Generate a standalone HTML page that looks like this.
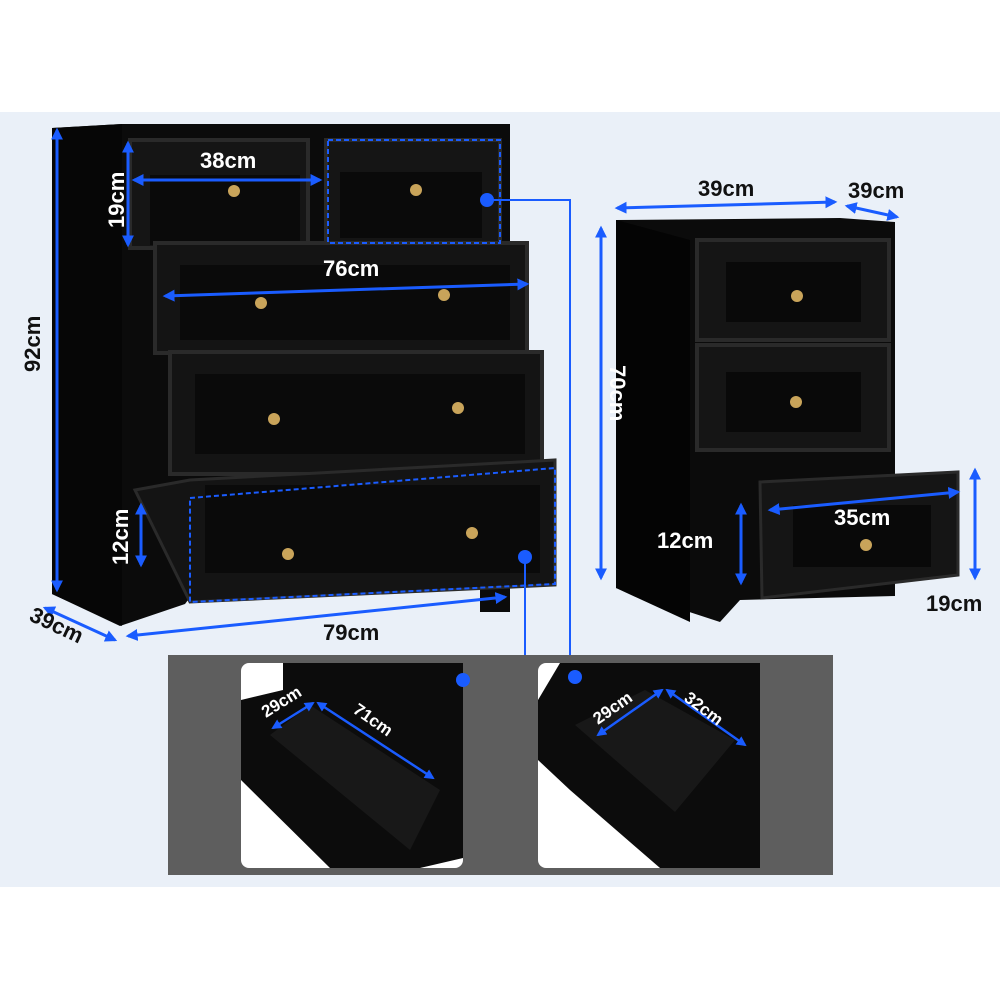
<!DOCTYPE html><html><head><style>body{margin:0;background:#fff}svg{display:block}text{font-family:"Liberation Sans",sans-serif;font-weight:bold;fill:#111}</style></head><body>
<svg width="1000" height="1000" viewBox="0 0 1000 1000">
<defs><marker id="a" viewBox="0 0 10 10" refX="8" refY="5" markerWidth="4" markerHeight="4" orient="auto-start-reverse"><path d="M0,0L10,5L0,10z" fill="#1a5cff"/></marker></defs>
<rect x="0" y="112" width="1000" height="775" fill="#eaf0f8"/>
<!-- main dresser -->
<polygon points="52,128 122,124 510,124 510,612 480,612 480,584 200,584 185,604 120,626 52,594" fill="#0b0b0b"/>
<polygon points="52,128 122,124 122,626 52,594" fill="#060606"/>
<rect x="130" y="140" width="178" height="108" fill="#151515" stroke="#2a2a2a" stroke-width="4"/>
<rect x="150" y="175" width="150" height="70" fill="#0a0a0a"/>
<rect x="326" y="140" width="174" height="104" fill="#151515" stroke="#2a2a2a" stroke-width="4"/>
<rect x="340" y="172" width="142" height="66" fill="#0a0a0a"/>
<rect x="155" y="243" width="372" height="110" fill="#141414" stroke="#2a2a2a" stroke-width="4"/>
<rect x="180" y="265" width="330" height="75" fill="#0a0a0a"/>
<rect x="170" y="352" width="372" height="122" fill="#141414" stroke="#2a2a2a" stroke-width="4"/>
<rect x="195" y="374" width="330" height="80" fill="#0a0a0a"/>
<polygon points="135,490 190,480 555,460 555,585 190,602" fill="#141414" stroke="#2a2a2a" stroke-width="3"/>
<rect x="205" y="485" width="335" height="88" fill="#0a0a0a"/>
<rect x="328" y="140" width="172" height="103" fill="none" stroke="#1a5cff" stroke-width="2" stroke-dasharray="5,3"/>
<polygon points="190,498 555,468 555,584 190,602" fill="none" stroke="#1a5cff" stroke-width="2" stroke-dasharray="5,3"/>
<!-- small cabinet -->
<polygon points="616,220 840,218 895,222 895,596 740,600 720,622 616,588" fill="#0b0b0b"/>
<polygon points="616,220 690,240 690,622 616,588" fill="#040404"/>
<rect x="697" y="240" width="192" height="100" fill="#151515" stroke="#2a2a2a" stroke-width="4"/>
<rect x="726" y="262" width="135" height="60" fill="#090909"/>
<rect x="697" y="345" width="192" height="105" fill="#151515" stroke="#2a2a2a" stroke-width="4"/>
<rect x="726" y="372" width="135" height="60" fill="#090909"/>
<polygon points="760,482 958,472 958,575 762,598" fill="#151515" stroke="#2a2a2a" stroke-width="3"/>
<rect x="793" y="505" width="138" height="62" fill="#090909"/>
<g fill="#c9a45a"><circle cx="234" cy="191" r="6"/><circle cx="416" cy="190" r="6"/><circle cx="261" cy="303" r="6"/><circle cx="444" cy="295" r="6"/><circle cx="274" cy="419" r="6"/><circle cx="458" cy="408" r="6"/><circle cx="288" cy="554" r="6"/><circle cx="472" cy="533" r="6"/><circle cx="797" cy="296" r="6"/><circle cx="796" cy="402" r="6"/><circle cx="866" cy="545" r="6"/></g>
<!-- arrows -->
<g stroke="#1a5cff" stroke-width="3" fill="none" marker-start="url(#a)" marker-end="url(#a)">
<line x1="57" y1="130" x2="57" y2="590"/><line x1="128" y1="143" x2="128" y2="245"/>
<line x1="134" y1="180" x2="320" y2="180"/><line x1="165" y1="296" x2="527" y2="284"/>
<line x1="141" y1="505" x2="141" y2="565"/><line x1="128" y1="636" x2="505" y2="597"/>
<line x1="45" y1="608" x2="115" y2="640"/>
<line x1="617" y1="208" x2="835" y2="202"/><line x1="847" y1="206" x2="897" y2="217"/>
<line x1="601" y1="228" x2="601" y2="578"/><line x1="741" y1="505" x2="741" y2="583"/>
<line x1="770" y1="510" x2="958" y2="492"/><line x1="975" y1="470" x2="975" y2="578"/>
</g>
<g stroke="#1a5cff" stroke-width="2" fill="none"><polyline points="487,200 570,200 570,678"/><polyline points="525,557 525,682 463,682"/></g>
<!-- bottom panel -->
<rect x="168" y="655" width="665" height="220" fill="#5e5e5e"/>
<rect x="241" y="663" width="222" height="205" rx="8" fill="#fff"/>
<rect x="538" y="663" width="222" height="205" rx="8" fill="#fff"/>
<polygon points="283,663 463,663 463,858 420,868 330,868 241,780 241,700 283,690" fill="#0c0c0c"/>
<polygon points="560,663 760,663 760,868 660,868 570,790 538,760 538,700" fill="#0c0c0c"/>
<polygon points="270,735 310,705 440,790 410,850" fill="#181818"/>
<polygon points="575,725 645,690 735,740 675,812" fill="#181818"/>
<g fill="#1a5cff"><circle cx="487" cy="200" r="7"/><circle cx="525" cy="557" r="7"/><circle cx="463" cy="680" r="7"/><circle cx="575" cy="677" r="7"/></g>
<g stroke="#1a5cff" stroke-width="2.5" fill="none" marker-start="url(#a)" marker-end="url(#a)"><line x1="273" y1="728" x2="313" y2="703"/><line x1="318" y1="703" x2="433" y2="778"/><line x1="598" y1="735" x2="662" y2="690"/><line x1="667" y1="690" x2="745" y2="745"/></g>
<g style="fill:#fff" font-size="17"><text style="fill:#fff" transform="translate(266,718) rotate(-32)">29cm</text><text style="fill:#fff" transform="translate(352,712) rotate(35)">71cm</text><text style="fill:#fff" transform="translate(598,725) rotate(-35)">29cm</text><text style="fill:#fff" transform="translate(683,700) rotate(37)">32cm</text></g>
<!-- labels -->
<g font-size="22"><text x="200" y="168" style="fill:#fff">38cm</text><text transform="translate(124,228) rotate(-90)" style="fill:#fff">19cm</text><text x="323" y="276" style="fill:#fff">76cm</text><text transform="translate(40,372) rotate(-90)">92cm</text><text transform="translate(128,565) rotate(-90)" style="fill:#fff">12cm</text><text x="323" y="640">79cm</text><text transform="translate(28,620) rotate(25)">39cm</text><text x="698" y="196">39cm</text><text x="848" y="198">39cm</text><text transform="translate(610,365) rotate(90)" style="fill:#fff">70cm</text><text x="657" y="548" style="fill:#fff">12cm</text><text x="926" y="611">19cm</text><text x="834" y="525" style="fill:#fff">35cm</text></g>
</svg></body></html>
